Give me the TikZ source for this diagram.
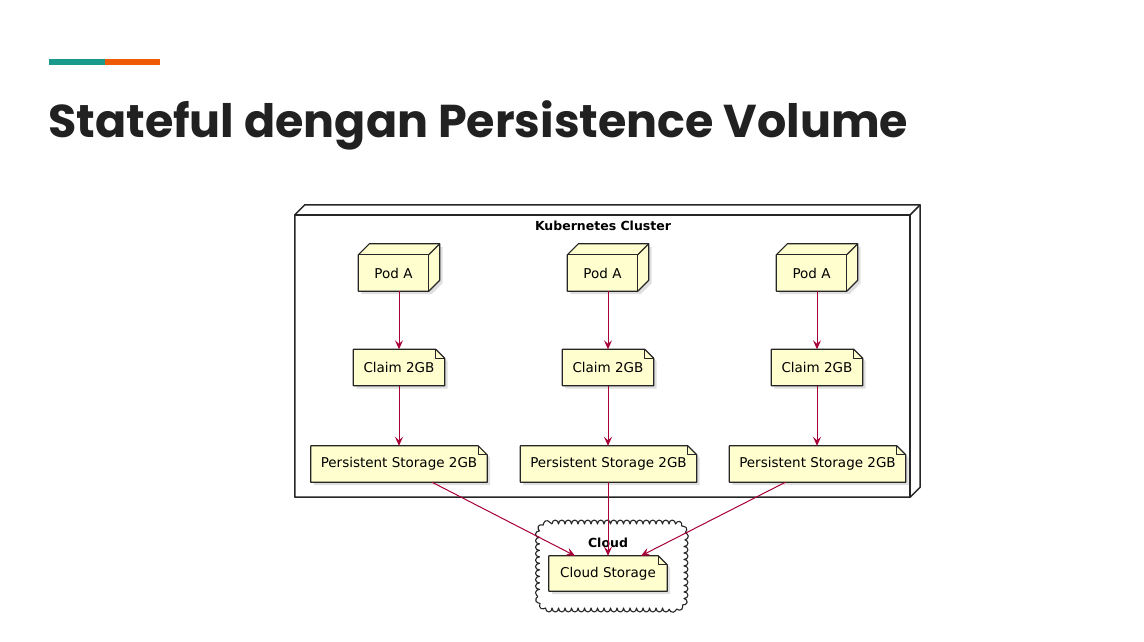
\documentclass[tikz,border=0pt]{standalone}
\usepackage{fontspec}
\usepackage{graphicx}
\setmainfont{DejaVu Sans}
\newfontfamily\titlefont{Poppins}
\usetikzlibrary{shadows,arrows.meta,decorations.pathmorphing}
\pgfdeclarelayer{back}\pgfdeclarelayer{mid}
\pgfsetlayers{back,mid,main}
\definecolor{notefill}{HTML}{FEFECE}
\definecolor{arrc}{HTML}{A80036}
\definecolor{titlec}{HTML}{212121}
\definecolor{tealbar}{HTML}{199A8A}
\definecolor{orangebar}{HTML}{EE5A05}
\tikzset{
  boldlbl/.style={inner sep=0, font=\fontsize{12.5}{14}\selectfont\bfseries},
  podbox/.style={minimum width=70pt, minimum height=36pt, inner sep=0, font=\fontsize{13.5}{15}\selectfont},
  notebox/.style={minimum height=36pt, inner sep=0, font=\fontsize{13.5}{15}\selectfont},
  outline/.style={draw=black!85, line width=1.2pt, line join=round},
  shad/.style={drop shadow={opacity=0.25, shadow xshift=3pt, shadow yshift=-3pt}},
  arr/.style={draw=arrc, line width=1pt, -{Stealth[length=9pt,width=8pt,inset=3.5pt]}},
}
\newcommand\drawnote[1]{%
  \path[outline, fill=notefill, shad] (#1.north west) -- ([xshift=-9pt]#1.north east) -- ([yshift=-9pt]#1.north east) -- (#1.south east) -- (#1.south west) -- cycle;
  \draw[outline, line width=0.9pt] ([xshift=-9pt]#1.north east) |- ([yshift=-9pt]#1.north east);
}
\newcommand\drawcube[5]{% name, depth, fill, shadow style, line width
  \path[outline, line width=#5, fill=#3, #4] (#1.south west) -- (#1.north west) -- ([shift={(#2pt,#2pt)}]#1.north west) -- ([shift={(#2pt,#2pt)}]#1.north east) -- ([shift={(#2pt,#2pt)}]#1.south east) -- (#1.south east) -- cycle;
  \draw[outline, line width=#5] (#1.north west) -- (#1.north east) -- (#1.south east);
  \draw[outline, line width=#5] (#1.north east) -- ([shift={(#2pt,#2pt)}]#1.north east);
}
\begin{document}
\begin{tikzpicture}[x=1pt,y=-1pt]
\useasboundingbox (0,0) rectangle (1144,642);
% accent bars
\fill[tealbar] (49,59) rectangle (105,65.5);
\fill[orangebar] (105,59) rectangle (160,65.5);
% title
\node[anchor=base west, inner sep=0, text=titlec] (title) at (48,138) {\resizebox{860pt}{!}{\titlefont\bfseries Stateful dengan Persistence Volume}};

% cluster
\node[minimum width=615pt, minimum height=282pt, inner sep=0] (k8s) at (602.5,356) {};
\node[boldlbl] (k8slbl) at (603,226) {Kubernetes Cluster};

% pods
\node[podbox] (pod1) at (393.5,273) {Pod A};
\node[podbox] (pod2) at (602.5,273) {Pod A};
\node[podbox] (pod3) at (811.5,273) {Pod A};

% claims
\node[notebox, minimum width=91pt] (c1) at (399,367.5) {Claim 2GB};
\node[notebox, minimum width=91pt] (c2) at (608,367.5) {Claim 2GB};
\node[notebox, minimum width=91pt] (c3) at (817,367.5) {Claim 2GB};

% persistent storage
\node[notebox, minimum width=176pt] (ps1) at (399,464) {Persistent Storage 2GB};
\node[notebox, minimum width=176pt] (ps2) at (608.5,464) {Persistent Storage 2GB};
\node[notebox, minimum width=176pt] (ps3) at (817.5,464) {Persistent Storage 2GB};

% cloud
\node[minimum width=145pt, minimum height=84pt, inner sep=0] (cloud) at (611.5,566) {};
\node[boldlbl] (cloudlbl) at (608,543) {Cloud};
\node[notebox, minimum width=118pt, minimum height=35pt] (cs) at (608,573.5) {Cloud Storage};

\begin{pgfonlayer}{back}
  \fill[white] (0,0) rectangle (1144,642);
  \drawcube{k8s}{10}{white}{}{1.5pt}
  \path[outline, line width=1.1pt, fill=white, decorate, decoration={bumps, segment length=13pt, amplitude=4pt}]
    (552,524) -- (672,524) .. controls (679,524) and (684,529) .. (684,536)
    -- (684,596) .. controls (684,603) and (679,608) .. (672,608)
    -- (552,608) .. controls (545,608) and (539.5,603) .. (539.5,596)
    -- (539.5,536) .. controls (539.5,529) and (545,524) .. (552,524);
\end{pgfonlayer}
\begin{pgfonlayer}{mid}
  \drawcube{pod1}{11}{notefill}{shad}{1.2pt}
  \drawcube{pod2}{11}{notefill}{shad}{1.2pt}
  \drawcube{pod3}{11}{notefill}{shad}{1.2pt}
  \drawnote{c1}\drawnote{c2}\drawnote{c3}
  \drawnote{ps1}\drawnote{ps2}\drawnote{ps3}
  \drawnote{cs}
\end{pgfonlayer}

% connectors
\draw[arr] (pod1.south -| c1.north) -- (c1.north);
\draw[arr] (pod2.south -| c2.north) -- (c2.north);
\draw[arr] (pod3.south -| c3.north) -- (c3.north);
\draw[arr] (c1.south) -- (ps1.north -| c1.south);
\draw[arr] (c2.south) -- (ps2.north -| c2.south);
\draw[arr] (c3.south) -- (ps3.north -| c3.south);
\draw[arr] ([xshift=33pt]ps1.south) -- ([xshift=-33pt]cs.north);
\draw[arr] (ps2.south -| cs.north) -- (cs.north);
\draw[arr] ([xshift=-32pt]ps3.south) -- ([xshift=33pt]cs.north);
\end{tikzpicture}
\end{document}
